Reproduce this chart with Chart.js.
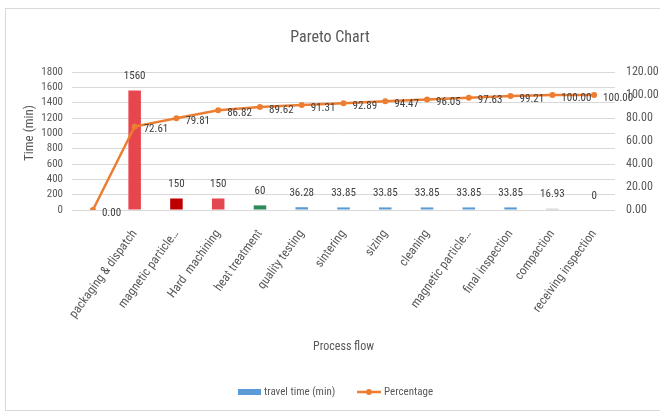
<!DOCTYPE html>
<html>
<head>
<meta charset="utf-8">
<title>Pareto Chart</title>
<script src="https://cdn.jsdelivr.net/npm/chart.js@4/dist/chart.umd.min.js"></script>
<style>
  html, body { margin: 0; padding: 0; background: #fff; }
  #wrap { position: relative; width: 660px; height: 413px; }
</style>
</head>
<body>
<div id="wrap"><canvas id="pareto"></canvas></div>
<script>
// process steps, first slot is the empty starting point of the cumulative line
const processSteps = ['', 'packaging & dispatch', 'magnetic particle\u2026', 'Hard  machining', 'heat treatment',
  'quality testing', 'sintering', 'sizing', 'cleaning', 'magnetic particle\u2026', 'final inspection',
  'compaction', 'receiving inspection'];
const travelTime = [null, 1560, 150, 150, 60, 36.28, 33.85, 33.85, 33.85, 33.85, 33.85, 16.93, 0];
const cumulativePct = [0, 72.61, 79.81, 86.82, 89.62, 91.31, 92.89, 94.47, 96.05, 97.63, 99.21, 100, 100];
const barColors = ['#5b9bd5', '#e8464e', '#c00000', '#e3474f', '#2e8b57', '#5b9bd5', '#5b9bd5',
  '#5b9bd5', '#5b9bd5', '#5b9bd5', '#5b9bd5', '#b7bec6', '#5b9bd5'];

const FONT = '"Liberation Sans Narrow", "Roboto Condensed", Roboto, sans-serif';
const TEXT = '#595959';
const GRID = '#d9d9d9';
const ORANGE = '#ed7d31';

// value labels next to bars and line points
const valueLabels = {
  id: 'valueLabels',
  afterDatasetsDraw(chart) {
    const ctx = chart.ctx;
    ctx.save();
    ctx.font = '11px ' + FONT;
    ctx.fillStyle = '#404040';
    ctx.textBaseline = 'middle';
    const bars = chart.getDatasetMeta(0).data;
    ctx.textAlign = 'center';
    bars.forEach((el, i) => {
      const v = travelTime[i];
      if (v === null) return;
      ctx.fillText(String(v), el.x, el.y - 14);
    });
    const pts = chart.getDatasetMeta(1).data;
    ctx.textAlign = 'left';
    pts.forEach((el, i) => {
      ctx.fillText(cumulativePct[i].toFixed(2), el.x + 9, el.y + 3);
    });
    ctx.restore();
  }
};

// frame, title, axis titles and legend
const decorations = {
  id: 'decorations',
  beforeDraw(chart) {
    const ctx = chart.ctx;
    ctx.save();
    ctx.strokeStyle = GRID;
    ctx.lineWidth = 1;
    ctx.strokeRect(5.5, 8.5, 700, 402);
    ctx.restore();
  },
  afterDraw(chart) {
    const ctx = chart.ctx;
    const area = chart.chartArea;
    ctx.save();
    ctx.fillStyle = TEXT;
    ctx.textBaseline = 'middle';
    ctx.textAlign = 'center';
    ctx.font = '16px ' + FONT;
    ctx.fillText('Pareto Chart', 330, 38);

    ctx.font = '12px ' + FONT;
    ctx.fillText('Process flow', (area.left + area.right) / 2, 347);

    ctx.save();
    ctx.translate(30, 133);
    ctx.rotate(-Math.PI / 2);
    ctx.font = '13px ' + FONT;
    ctx.fillText('Time (min)', 0, 0);
    ctx.restore();

    // legend
    const ly = 392;
    ctx.font = '11px ' + FONT;
    ctx.textAlign = 'left';
    ctx.fillStyle = chart.data.datasets[0].legendColor;
    ctx.fillRect(238, ly - 3, 23, 6);
    ctx.fillStyle = TEXT;
    ctx.fillText(chart.data.datasets[0].label, 264, ly);
    ctx.strokeStyle = ORANGE;
    ctx.lineWidth = 2.5;
    ctx.beginPath();
    ctx.moveTo(357, ly);
    ctx.lineTo(381, ly);
    ctx.stroke();
    ctx.fillStyle = ORANGE;
    ctx.beginPath();
    ctx.arc(369, ly, 3, 0, Math.PI * 2);
    ctx.fill();
    ctx.fillStyle = TEXT;
    ctx.fillText(chart.data.datasets[1].label, 384, ly);
    ctx.restore();
  }
};

new Chart(document.getElementById('pareto'), {
  data: {
    labels: processSteps,
    datasets: [
      {
        type: 'bar',
        label: 'travel time (min)',
        data: travelTime,
        backgroundColor: barColors,
        legendColor: '#5b9bd5',
        yAxisID: 'y',
        barPercentage: 0.3,
        categoryPercentage: 1,
        order: 2
      },
      {
        type: 'line',
        label: 'Percentage',
        data: cumulativePct,
        borderColor: ORANGE,
        backgroundColor: ORANGE,
        borderWidth: 2.5,
        pointRadius: 3,
        pointBackgroundColor: ORANGE,
        pointBorderWidth: 0,
        tension: 0,
        yAxisID: 'y1',
        order: 1
      }
    ]
  },
  options: {
    responsive: true,
    maintainAspectRatio: false,
    animation: false,
    layout: { padding: { top: 72, left: 0, right: 0, bottom: 0 } },
    plugins: {
      legend: { display: false },
      title: { display: false },
      tooltip: { enabled: false }
    },
    scales: {
      x: {
        grid: { display: false, drawTicks: false },
        border: { display: false },
        ticks: {
          autoSkip: false,
          minRotation: 54,
          maxRotation: 54,
          padding: 17,
          color: TEXT,
          font: { family: FONT, size: 12.5 }
        },
        afterFit(scale) { scale.height = 203; }
      },
      y: {
        position: 'left',
        min: 0,
        max: 1800,
        grid: { color: GRID, drawTicks: false },
        border: { display: false },
        ticks: {
          autoSkip: false,
          stepSize: 200,
          padding: 9,
          color: TEXT,
          font: { family: FONT, size: 11 },
          callback: v => String(v)
        },
        afterFit(scale) { scale.width = 72; }
      },
      y1: {
        position: 'right',
        min: 0,
        max: 120,
        grid: { display: false, drawTicks: false },
        border: { display: false },
        ticks: {
          autoSkip: false,
          stepSize: 20,
          padding: 11,
          color: TEXT,
          font: { family: FONT, size: 12 },
          callback: v => v.toFixed(2)
        },
        afterFit(scale) { scale.width = 45; }
      }
    }
  },
  plugins: [valueLabels, decorations]
});
</script>
</body>
</html>
